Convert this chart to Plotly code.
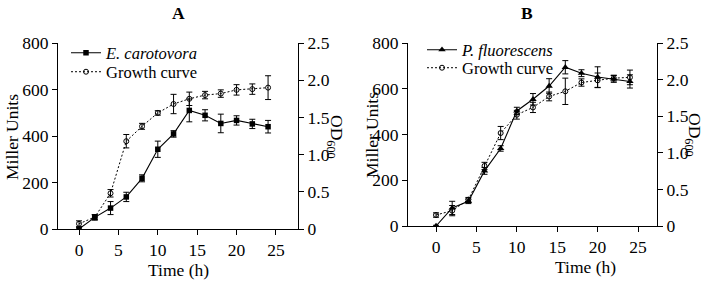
import plotly.graph_objects as go

time_h = [0, 2, 4, 6, 8, 10, 12, 14, 16, 18, 20, 22, 24]

# Panel A
ec_miller = [0, 50, 90, 138, 218, 343, 409, 510, 489, 454, 467, 452, 440]
ec_miller_err = [5, 12, 28, 20, 15, 35, 14, 49, 24, 40, 20, 20, 27]
ec_od = [0.07, 0.16, 0.48, 1.18, 1.38, 1.56, 1.68, 1.75, 1.80, 1.82, 1.87, 1.88, 1.90]
ec_od_err = [0.04, 0.03, 0.05, 0.09, 0.04, 0.03, 0.13, 0.09, 0.05, 0.05, 0.07, 0.07, 0.16]

# Panel B
pf_miller = [0, 79, 108, 241, 339, 503, 554, 612, 694, 668, 651, 643, 632]
pf_miller_err = [3, 29, 10, 15, 12, 16, 25, 32, 29, 15, 45, 15, 29]
pf_od = [0.15, 0.21, 0.36, 0.82, 1.27, 1.52, 1.62, 1.77, 1.84, 1.96, 1.99, 2.02, 2.03]
pf_od_err = [0.03, 0.07, 0.03, 0.05, 0.09, 0.06, 0.07, 0.06, 0.18, 0.05, 0.1, 0.04, 0.1]

x_ticks = [0, 5, 10, 15, 20, 25]
left_ticks = [0, 200, 400, 600, 800]
right_ticks = [0, 0.5, 1.0, 1.5, 2.0, 2.5]
right_ticktext = ["0", "0.5", "1.0", "1.5", "2.0", "2.5"]

FONT = "Liberation Serif, Times New Roman, serif"
FS = 17.5
LFS = 16.5

W, H = 709, 281
def px(x): return x / W
def py(y): return 1 - y / H

fig = go.Figure()

def err(a):
    return dict(type="data", array=a, thickness=1, width=3, color="black", visible=True)

fig.add_trace(go.Scatter(x=time_h, y=ec_miller, error_y=err(ec_miller_err), mode="lines+markers",
                         name="<i>E. carotovora</i>", line=dict(color="black", width=1.1),
                         marker=dict(symbol="square", size=5.5, color="black"),
                         xaxis="x", yaxis="y", legend="legend"))
fig.add_trace(go.Scatter(x=time_h, y=ec_od, error_y=err(ec_od_err), mode="lines+markers",
                         name="Growth curve", line=dict(color="black", width=1, dash="2px,2px"),
                         marker=dict(symbol="circle-open", size=5, color="black", line=dict(width=1)),
                         xaxis="x", yaxis="y2", legend="legend2"))
fig.add_trace(go.Scatter(x=time_h, y=pf_miller, error_y=err(pf_miller_err), mode="lines+markers",
                         name="<i>P. fluorescens</i>", line=dict(color="black", width=1.1),
                         marker=dict(symbol="triangle-up", size=6.5, color="black"),
                         xaxis="x2", yaxis="y3", legend="legend3"))
fig.add_trace(go.Scatter(x=time_h, y=pf_od, error_y=err(pf_od_err), mode="lines+markers",
                         name="Growth curve", line=dict(color="black", width=1, dash="2px,2px"),
                         marker=dict(symbol="circle-open", size=5, color="black", line=dict(width=1)),
                         xaxis="x2", yaxis="y4", legend="legend4"))

axis_common = dict(showline=True, linecolor="black", linewidth=1, ticks="outside", ticklen=5,
                   tickcolor="black", tickwidth=1, showgrid=False, zeroline=False, automargin=False,
                   tickfont=dict(family=FONT, size=FS, color="black"))

def leg(x, y):
    return dict(x=px(x), y=py(y), xanchor="left", yanchor="middle", bgcolor="rgba(0,0,0,0)",
                font=dict(family=FONT, size=LFS, color="black"), itemwidth=30, borderwidth=0)

fig.update_layout(
    width=W, height=H, margin=dict(l=0, r=0, t=0, b=0, autoexpand=False),
    paper_bgcolor="white", plot_bgcolor="white",
    font=dict(family=FONT, size=FS, color="black"),
    xaxis=dict(domain=[px(58), px(298)], range=[-2.67, 27.8], tickvals=x_ticks, anchor="y", **axis_common),
    yaxis=dict(domain=[py(229), py(43)], range=[0, 800], tickvals=left_ticks, anchor="x", **axis_common),
    yaxis2=dict(domain=[py(229), py(43)], range=[0, 2.5], tickvals=right_ticks, ticktext=right_ticktext,
                overlaying="y", side="right", anchor="x", **axis_common),
    xaxis2=dict(domain=[px(408), px(657)], range=[-3.47, 27.35], tickvals=x_ticks, anchor="y3", **axis_common),
    yaxis3=dict(domain=[py(226), py(43)], range=[0, 800], tickvals=left_ticks, anchor="x2", **axis_common),
    yaxis4=dict(domain=[py(226), py(43)], range=[0, 2.5], tickvals=right_ticks, ticktext=right_ticktext,
                overlaying="y3", side="right", anchor="x2", **axis_common),
    legend=leg(66, 53),
    legend2=leg(66, 72),
    legend3=leg(422, 50),
    legend4=leg(422, 68),
    showlegend=True,
)

annos = [
    dict(text="<b>A</b>", x=px(178), y=py(13)),
    dict(text="<b>B</b>", x=px(527), y=py(13)),
    dict(text="Time (h)", x=px(178), y=py(270)),
    dict(text="Time (h)", x=px(585), y=py(267)),
    dict(text="Miller Units", x=px(12), y=py(137), textangle=-90),
    dict(text="Miller Units", x=px(372), y=py(135), textangle=-90),
    dict(text="OD<sub>600</sub>", x=px(336), y=py(137), textangle=90),
    dict(text="OD<sub>600</sub>", x=px(694), y=py(135), textangle=90),
]
for a in annos:
    fig.add_annotation(xref="paper", yref="paper", showarrow=False,
                       xanchor="center", yanchor="middle",
                       font=dict(family=FONT, size=FS, color="black"), **a)

fig.write_html("out.html", config={"displayModeBar": False},
               post_script="document.body.style.margin='0';document.body.style.overflow='hidden';")
